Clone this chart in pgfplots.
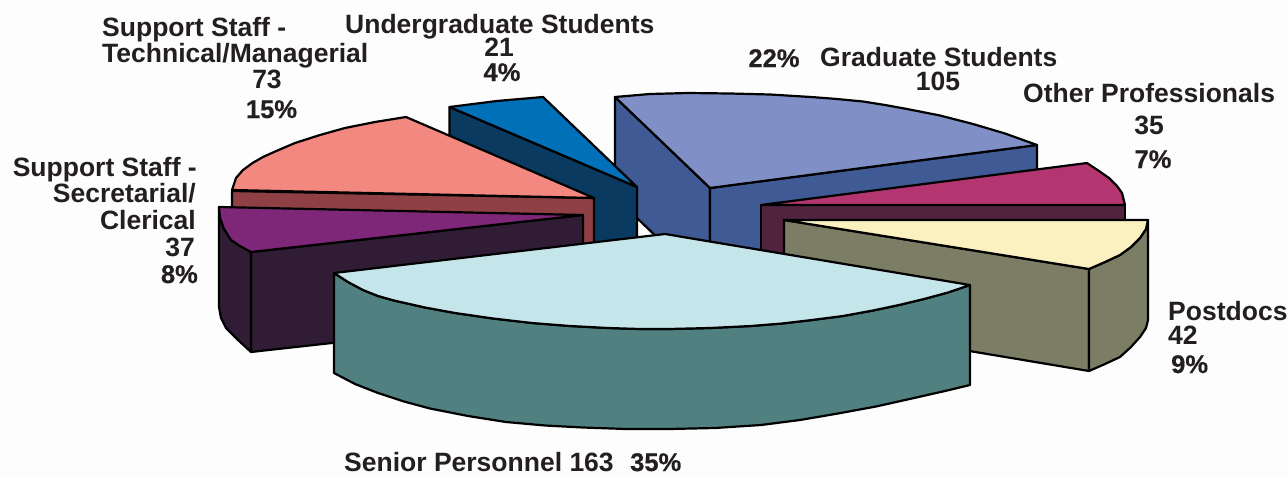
\documentclass[border=0pt]{standalone}
\usepackage{fontspec}
\setmainfont{Liberation Sans}
\newfontface\pctf{Liberation Sans Bold}[FakeBold=0.5]
\usepackage{pgfplots}
\pgfplotsset{compat=1.18}
\definecolor{bg}{HTML}{FDFDFE}
\definecolor{txt}{HTML}{231F20}
\definecolor{gradT}{HTML}{8090C6}\definecolor{gradS}{HTML}{3F5A94}
\definecolor{ugT}{HTML}{0070B8}\definecolor{ugS}{HTML}{0A3A60}
\definecolor{techT}{HTML}{F28880}\definecolor{techS}{HTML}{8F4044}
\definecolor{secT}{HTML}{7E2678}\definecolor{secS}{HTML}{301C35}
\definecolor{othT}{HTML}{B43670}\definecolor{othS}{HTML}{52233F}
\definecolor{posT}{HTML}{FBF1C0}\definecolor{posS}{HTML}{7C7D65}
\definecolor{senT}{HTML}{C4E5E9}\definecolor{senS}{HTML}{508080}
\newcommand{\lab}[3]{\node[anchor=#2,inner sep=0pt,text=txt,font=\fontsize{26.5}{28}\selectfont\bfseries] at (axis cs:#1) {#3};}
\newcommand{\plab}[3]{\node[anchor=#2,inner sep=0pt,text=txt,font=\fontsize{25.5}{28}\pctf] at (axis cs:#1) {#3};}
\begin{document}
\begin{tikzpicture}
\begin{axis}[
  scale only axis, width=1288pt, height=477pt,
  xmin=0, xmax=1288, ymin=0, ymax=477, y dir=reverse,
  hide axis, clip=false, no markers,
  every axis plot/.append style={line width=2.2pt, line join=round, draw=black},
]
% background
\addplot[fill=bg,draw=none] coordinates {(0,0)(1288,0)(1288,477)(0,477)} --cycle;
% Graduate Students 105
\addplot[fill=gradS] coordinates {(615,97)(710,188)(710,288)(615,197)} --cycle;
\addplot[fill=gradS] coordinates {(710,188)(1037,145)(1037,245)(710,288)} --cycle;
\addplot[fill=gradT] coordinates {(615,97)(650,94)(688,93)(730,93.5)(770,94.5)(811,97)(837,99)(863,101.5)(885,105)(907,109)(940,115.5)(973,124)(1005,133.5)(1037,145)(710,188)} --cycle;
% Undergraduate Students 21
\addplot[fill=ugS] coordinates {(449.5,107)(637,187)(637,287)(449.5,207)} --cycle;
\addplot[fill=ugT] coordinates {(449.5,107)(497,101)(543,97)(637,187)} --cycle;
% Technical/Managerial 73
\addplot[fill=techS] coordinates {(232,191)(594,198)(594,298)(232,291)} --cycle;
\addplot[fill=techT] coordinates {(232,190)(236,178)(243,170)(252.5,163)(263,157)(274,152)(295,143)(320,135)(345,128)(375,122)(406,117)(594,198)} --cycle;
% Secretarial/Clerical 37
\addplot[fill=secS] coordinates {(251,252)(583,215)(583,315)(251,352)} --cycle;
\addplot[fill=secS] coordinates {(219,207)(220,218)(224,229)(231,240)(240,246)(251,252)(251,352)(238,340)(226,328)(221,318)(219,307)} --cycle;
\addplot[fill=secT] coordinates {(219,207)(583,215)(251,252)(240,246)(231,240)(224,229)(220,218)} --cycle;
% Other Professionals 35
\addplot[fill=othS] coordinates {(761,205)(1125,205)(1125,305)(761,305)} --cycle;
\addplot[fill=othT] coordinates {(761,205)(1087,163)(1099,171)(1109,178)(1117,186)(1122,193)(1125,205)} --cycle;
% Postdocs 42
\addplot[fill=posS] coordinates {(784,220)(1089,269)(1089,371)(784,320)} --cycle;
\addplot[fill=posS] coordinates {(1148,220)(1148,320)(1146,328)(1140,337)(1131,347)(1120,357)(1105,364)(1089,371)(1089,269)(1105,262)(1120,255)(1131,247)(1140,238)(1146,229)} --cycle;
\addplot[fill=posT] coordinates {(784,220)(1148,220)(1146,229)(1140,238)(1131,247)(1120,255)(1105,262)(1089,269)} --cycle;
% Senior Personnel 163
\addplot[fill=senS] coordinates {(334,273)(348,282)(363,290)(378,296)(394,300.5)(425,307.5)(455,313)(493,318.5)(532,323)(570,326)(608,328)(640,329)(669,329)(710,328)(751,326)(782,323.5)(812,320)(843,316)(873,310.5)(899,305)(924,299)(948,292.5)(970,285)(970,385)(945,391)(914,398)(876,406.5)(838,413.5)(800,420)(761,425)(715,428)(669,429)(626,429)(583,427.5)(545,425.5)(506,422)(468,416)(430,408.5)(404,401.5)(378,393)(355,384)(334,373)} --cycle;
\addplot[fill=senT] coordinates {(665,234)(970,285)(948,292.5)(924,299)(899,305)(873,310.5)(843,316)(812,320)(782,323.5)(751,326)(710,328)(669,329)(640,329)(608,328)(570,326)(532,323)(493,318.5)(455,313)(425,307.5)(394,300.5)(378,296)(363,290)(348,282)(334,273)} --cycle;
% labels
\lab{102,36}{base west}{Support Staff -}
\lab{102,62}{base west}{Technical/Managerial}
\lab{267,88}{base}{73}
\plab{271.5,118}{base}{15\%}
\lab{345,33}{base west}{Undergraduate Students}
\lab{499,56}{base}{21}
\plab{502,81}{base}{4\%}
\plab{774,67}{base}{22\%}
\lab{820,66}{base west}{Graduate Students}
\lab{938,90}{base}{105}
\lab{1023,102}{base west}{Other Professionals}
\lab{1149,134}{base}{35}
\plab{1153,168}{base}{7\%}
\lab{197,176}{base east}{Support Staff -}
\lab{196,202}{base east}{Secretarial/}
\lab{196,229}{base east}{Clerical}
\lab{195,256}{base east}{37}
\plab{198,283}{base east}{8\%}
\lab{1168,320}{base west}{Postdocs}
\lab{1168,344}{base west}{42}
\plab{1171,373}{base west}{9\%}
\lab{344,471}{base west}{Senior Personnel 163}
\plab{630,471}{base west}{35\%}
\end{axis}
\end{tikzpicture}
\end{document}
